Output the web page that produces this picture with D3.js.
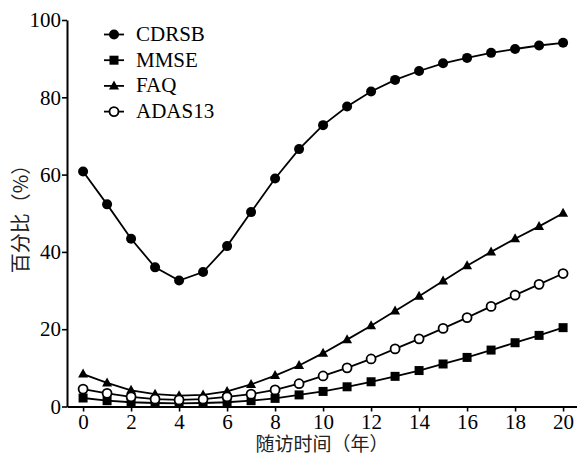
<!DOCTYPE html>
<html>
<head>
<meta charset="utf-8">
<script src="https://cdn.jsdelivr.net/npm/d3@7"></script>
<style>
  body { margin: 0; background: #fff; }
</style>
</head>
<body>
<div id="chart"></div>
<script>
// years of follow-up
var years = d3.range(0, 21);
var xTicks = [0, 2, 4, 6, 8, 10, 12, 14, 16, 18, 20];
var yTicks = [0, 20, 40, 60, 80, 100];

// percent values
var cdrsb = [60.8, 52.3, 43.4, 36.0, 32.6, 34.8, 41.5, 50.3, 59.0, 66.6, 72.8, 77.6, 81.5, 84.5, 86.8, 88.8, 90.2, 91.5, 92.5, 93.4, 94.1];
var mmse  = [2.2, 1.5, 1.1, 0.9, 0.8, 0.9, 1.1, 1.5, 2.1, 3.0, 3.9, 5.1, 6.4, 7.8, 9.3, 11.0, 12.7, 14.6, 16.5, 18.4, 20.4];
var faq   = [8.4, 6.1, 4.2, 3.2, 2.8, 3.0, 3.9, 5.7, 8.0, 10.6, 13.8, 17.3, 20.9, 24.7, 28.5, 32.5, 36.4, 40.0, 43.4, 46.6, 50.0];
var adas  = [4.5, 3.4, 2.5, 1.9, 1.7, 1.9, 2.5, 3.2, 4.3, 5.9, 7.9, 10.0, 12.3, 14.9, 17.5, 20.2, 23.0, 25.9, 28.8, 31.6, 34.4];

var seriesNames = ["CDRSB", "MMSE", "FAQ", "ADAS13"];
var seriesValues = [cdrsb, mmse, faq, adas];
var seriesMarks = ["circle", "square", "triangle", "open"];

var width = 577, height = 457;
var margin = { top: 20, right: 0, bottom: 51, left: 67 };
var serif = "Liberation Serif";
var cjk = "Noto Sans CJK SC";

var svg = d3.select("#chart")
  .append("svg")
    .attr("width", width)
    .attr("height", height);

var x = d3.scaleLinear()
  .domain([-0.67, 20.58])
  .range([margin.left, width - margin.right]);

var y = d3.scaleLinear()
  .domain([0, 100])
  .range([height - margin.bottom + 0.5, margin.top]);

// axes
var xAxis = svg.append("g")
  .attr("transform", "translate(0," + y(0) + ")")
  .call(d3.axisBottom(x).tickValues(xTicks).tickSize(5).tickPadding(3).tickSizeOuter(0));
var yAxis = svg.append("g")
  .attr("transform", "translate(" + x(-0.67) + ",0)")
  .call(d3.axisLeft(y).tickValues(yTicks).tickSize(5).tickPadding(1).tickSizeOuter(0));

[xAxis, yAxis].forEach(function(a) {
  a.attr("font-family", serif).attr("font-size", 21);
  a.select(".domain").attr("stroke", "#000").attr("stroke-width", 2);
  a.selectAll(".tick line").attr("stroke", "#000").attr("stroke-width", 1.6);
  a.selectAll(".tick text").attr("fill", "#000");
});

// axis titles
svg.append("text")
  .attr("x", 322)
  .attr("y", 451)
  .attr("text-anchor", "middle")
  .attr("font-family", cjk)
  .attr("font-size", 19)
  .attr("fill", "#222")
  .text("随访时间（年）");

svg.append("text")
  .attr("transform", "translate(28,214) rotate(-90)")
  .attr("text-anchor", "middle")
  .attr("font-family", cjk)
  .attr("font-size", 20)
  .attr("fill", "#222")
  .text("百分比（%）");

function drawMark(g, kind, cx, cy) {
  if (kind === "circle") {
    g.append("circle").attr("cx", cx).attr("cy", cy).attr("r", 5).attr("fill", "#000");
  } else if (kind === "open") {
    g.append("circle").attr("cx", cx).attr("cy", cy).attr("r", 4.5)
      .attr("fill", "#fff").attr("stroke", "#000").attr("stroke-width", 1.8);
  } else if (kind === "square") {
    g.append("rect").attr("x", cx - 4.5).attr("y", cy - 4.5).attr("width", 9).attr("height", 9).attr("fill", "#000");
  } else {
    g.append("path")
      .attr("d", "M" + cx + "," + (cy - 5.5) + "L" + (cx + 5) + "," + (cy + 3.5) + "L" + (cx - 5) + "," + (cy + 3.5) + "Z")
      .attr("fill", "#000");
  }
}

var line = d3.line()
  .x(function(d, i) { return x(years[i]); })
  .y(function(d) { return y(d); });

seriesValues.forEach(function(vals, s) {
  var g = svg.append("g");
  g.append("path")
    .datum(vals)
    .attr("d", line)
    .attr("fill", "none")
    .attr("stroke", "#000")
    .attr("stroke-width", 1.8);
  vals.forEach(function(v, i) {
    drawMark(g, seriesMarks[s], x(years[i]), y(v));
  });
});

// legend
var legend = svg.append("g")
  .attr("font-family", serif)
  .attr("font-size", 21);
seriesNames.forEach(function(name, i) {
  var ly = 34.5 + i * 25.7;
  legend.append("line")
    .attr("x1", 104).attr("x2", 124)
    .attr("y1", ly).attr("y2", ly)
    .attr("stroke", "#000").attr("stroke-width", 1.8);
  drawMark(legend, seriesMarks[i], 114, ly);
  legend.append("text")
    .attr("x", 136)
    .attr("y", ly + 6.5)
    .attr("fill", "#000")
    .text(name);
});
</script>
</body>
</html>
